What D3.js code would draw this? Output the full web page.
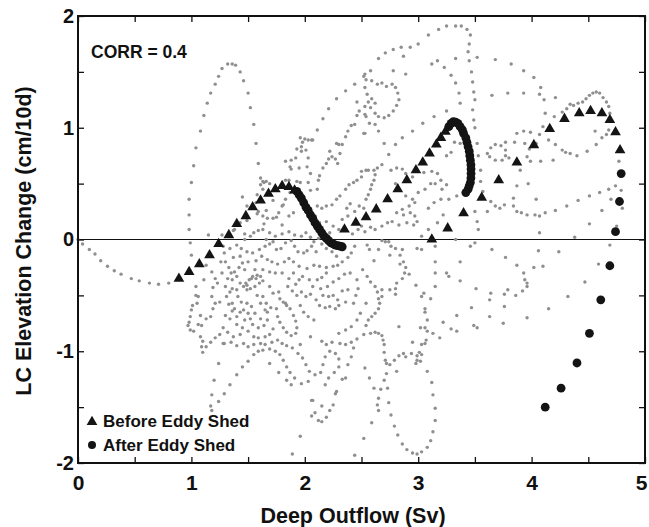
<!DOCTYPE html>
<html>
<head>
<meta charset="utf-8">
<script src="https://cdn.jsdelivr.net/npm/d3@7"></script>
<style>
  body { margin: 0; background: #fff; }
  text { font-family: "Liberation Sans", Arial, Helvetica, sans-serif; font-weight: bold; fill: #111; }
</style>
</head>
<body>
<svg id="chart" width="649" height="527"></svg>
<script>
// x = deep outflow (Sv), y = LC elevation change (cm/10d)
var xTicks = [0, 1, 2, 3, 4, 5];
var yTicks = [-2, -1, 0, 1, 2];
var corrLabel = 'CORR = 0.4';
var legendLabels = ['Before Eddy Shed', 'After Eddy Shed'];

// black triangles
var beforeShed = [
  [0.89,-0.35],[0.98,-0.29],[1.07,-0.22],[1.16,-0.14],[1.24,-0.04],[1.33,0.04],[1.40,0.14],[1.48,0.21],
  [1.54,0.29],[1.61,0.35],[1.68,0.41],[1.74,0.45],[1.80,0.48],[1.86,0.47],[1.91,0.44],
  [2.35,0.09],[2.45,0.15],[2.54,0.20],[2.63,0.27],[2.73,0.36],[2.82,0.45],[2.90,0.53],[2.98,0.62],
  [3.04,0.69],[3.10,0.77],[3.16,0.85],[3.20,0.91],[3.24,0.965],
  [3.12,0.00],[3.26,0.10],[3.40,0.235],[3.56,0.375],[3.71,0.53],[3.87,0.69],[4.02,0.845],[4.16,0.99],
  [4.29,1.08],[4.42,1.13],[4.52,1.15],[4.62,1.13],[4.69,1.07],[4.74,0.96],[4.78,0.80]
];

// black circles
var afterShed = [
  [1.93,0.43],[1.95,0.40],[1.97,0.37],[1.99,0.33],[2.01,0.29],[2.03,0.26],[2.05,0.22],[2.07,0.19],
  [2.09,0.15],[2.11,0.12],[2.13,0.09],[2.15,0.06],[2.17,0.03],[2.19,0.01],[2.21,-0.01],[2.23,-0.03],
  [2.25,-0.04],[2.27,-0.05],[2.29,-0.055],[2.31,-0.06],[2.33,-0.065],
  [3.27,1.01],[3.29,1.04],[3.31,1.055],[3.33,1.05],[3.35,1.04],[3.37,1.01],[3.39,0.98],[3.40,0.95],
  [3.42,0.91],[3.43,0.87],[3.44,0.83],[3.45,0.79],[3.455,0.75],[3.46,0.71],[3.465,0.67],[3.466,0.63],
  [3.466,0.59],[3.465,0.55],[3.46,0.51],[3.45,0.48],[3.44,0.45],[3.42,0.42],
  [4.79,0.59],[4.775,0.34],[4.74,0.07],[4.69,-0.235],[4.61,-0.54],[4.51,-0.84],[4.40,-1.105],
  [4.26,-1.33],[4.12,-1.50]
];

var trackWest = [
  [0.00,0.00],[0.04,-0.04],[0.10,-0.09],[0.15,-0.13],[0.20,-0.19],[0.26,-0.24],[0.32,-0.28],[0.38,-0.31],
  [0.47,-0.35],[0.54,-0.37],[0.63,-0.39],[0.71,-0.40],[0.80,-0.39],
  [0.99,-0.03],[0.98,0.09],[0.98,0.22],[0.98,0.36],[1.00,0.51],[1.02,0.66],[1.04,0.82],[1.08,0.97],
  [1.11,1.11],[1.14,1.22],[1.17,1.31],[1.21,1.39],[1.24,1.46],[1.27,1.53],[1.32,1.57],[1.36,1.57],
  [1.39,1.56],[1.43,1.50],[1.46,1.42],[1.50,1.31],[1.52,1.18],[1.55,1.03],[1.57,0.86],[1.59,0.68],
  [1.61,0.55],[1.64,0.51],[1.27,0.04],
  [1.00,-0.14],[1.13,-0.23],[1.18,-0.29],[1.21,-0.35],[1.11,-0.36],[1.04,-0.42],[1.04,-0.50],[1.06,-0.51],
  [1.05,-0.57],[1.01,-0.59],[1.00,-0.63],[0.99,-0.69],[0.98,-0.74],[0.97,-0.77],[0.99,-0.81],[1.02,-0.82],
  [1.06,-0.76],[1.09,-0.77],[1.13,-0.71],[1.17,-0.69],[1.19,-0.62],[1.21,-0.57],[1.25,-0.56],[1.18,-0.51],
  [1.19,-0.43],[1.23,-0.39],[1.08,-0.68],[1.08,-0.87],[1.10,-0.91],[1.09,-0.96],[1.10,-1.01],[1.13,-0.96],
  [1.17,-0.92],[1.21,-0.88],[1.25,-0.85],[1.29,-0.93],[1.24,-1.11],[1.20,-1.26],[1.18,-1.39],[1.24,-1.45],
  [1.17,-1.49],[1.18,-1.53],
  [1.15,0.04],[1.37,0.08],[1.47,0.05],[1.59,0.08],[1.64,0.14],[1.75,0.20],[1.66,0.26],[1.58,0.23],
  [1.49,0.17],[1.81,0.31],[1.72,0.35],[1.87,0.42]
];

var trackCentre = [
  [1.29,-1.38],[1.34,-1.30],[1.40,-1.21],[1.45,-1.14],[1.50,-1.09],[1.55,-1.03],[1.59,-1.00],[1.63,-0.99],
  [1.69,-0.98],[1.74,-1.00],[1.78,-1.03],[1.81,-1.08],[1.84,-1.14],[1.87,-1.19],[1.91,-1.24],[1.97,-1.29],
  [2.03,-1.27],[1.69,-1.11],[1.77,-1.19],[1.84,-1.26],[1.88,-1.30],[2.06,-1.44],[2.06,-1.58],[2.15,-1.49],
  [1.96,-1.76],[1.89,-1.92],[2.44,-1.93],[2.52,-1.78],
  [2.15,-0.91],[2.19,-0.94],[2.24,-0.92],[2.31,-0.93],[2.36,-0.94],[2.41,-0.92],[2.46,-0.89],[2.43,-0.97],
  [2.41,-1.05],[2.38,-1.12],[2.36,-1.24],[2.33,-1.25],[2.28,-1.36],[2.27,-1.38],[2.25,-1.48],[2.22,-1.53],
  [2.19,-1.59],[2.15,-1.63],[2.12,-1.62],[2.09,-1.55],[2.07,-1.44],[1.96,-0.94],[2.05,-0.87],
  [1.28,-0.06],[1.37,-0.16],[1.43,-0.15],[1.50,-0.20],[1.57,-0.19],[1.54,-0.12],[1.60,-0.09],[1.65,-0.06],
  [1.69,-0.04],[1.75,-0.09],[1.79,-0.08],[1.83,-0.03],[1.88,-0.01],[1.91,-0.06],[1.94,-0.11],[1.99,-0.12],
  [2.02,-0.10],[2.06,-0.06],[2.10,-0.11],
  [1.46,-0.42],[1.48,-0.39],[1.51,-0.36],[1.54,-0.33],[1.58,-0.32],[1.61,-0.33],[1.63,-0.37],[1.60,-0.39],
  [1.56,-0.42],[1.52,-0.44],[1.49,-0.45],[1.43,-0.39],[1.53,-0.35],[1.57,-0.35],[1.49,-0.41],
  [1.38,-0.29],[1.47,-0.27],[1.56,-0.27],[1.63,-0.27],[1.69,-0.29],[1.74,-0.30],[1.80,-0.30],[1.69,-0.42],
  [1.72,-0.48],[1.77,-0.47],[1.78,-0.53],[1.83,-0.57],
  [1.31,-0.51],[1.36,-0.57],[1.38,-0.62],[1.43,-0.65],[1.30,-0.68],[1.34,-0.71],[1.40,-0.76],[1.45,-0.79],
  [1.50,-0.82],[1.55,-0.87],[1.59,-0.88],[1.65,-0.87],[1.69,-0.85],[1.72,-0.80],[1.28,-0.93],[1.37,-0.87],
  [1.43,-0.85],[1.52,-0.71],[1.56,-0.66],[1.61,-0.71],[1.28,-0.79],
  [1.75,-0.62],[1.76,-0.69],[1.78,-0.74],[1.81,-0.79],[1.84,-0.83],[1.88,-0.86],[1.92,-0.84],[1.93,-0.79],
  [1.92,-0.73],[1.90,-0.68],[1.87,-0.62],[1.84,-0.59],[1.81,-0.56],
  [1.97,-0.47],[2.01,-0.51],[2.05,-0.49],[2.10,-0.54],[2.13,-0.59],[2.18,-0.61],[2.22,-0.60],[2.27,-0.62],
  [2.30,-0.59],[2.29,-0.54],[2.25,-0.50],[2.21,-0.51],[2.16,-0.50],[1.96,-0.59],[1.99,-0.65],[2.03,-0.69],
  [2.08,-0.72],[1.98,-0.33],[2.02,-0.26],[2.08,-0.23],[2.13,-0.24],[2.19,-0.25],[2.25,-0.24],[2.29,-0.23],
  [2.33,-0.20],[2.38,-0.16],[2.41,-0.12],[2.44,-0.06],[2.11,-0.36],[2.15,-0.34],[2.19,-0.30],[2.43,-0.57],
  [2.36,-0.56],[2.49,-0.66],[2.46,-0.72],[2.41,-0.78],[2.36,-0.81],[2.30,-0.84],
  [1.30,-0.42],[1.36,-0.36],[1.34,-0.47],[1.41,-0.51],[1.44,-0.56],[1.33,-0.58],[1.58,-0.50],[1.63,-0.51],
  [1.61,-0.57],[1.53,-0.60],[1.49,-0.57],[1.66,-0.57]
];

// the thickest part of the tangle, second pass
var trackTangle = [
  [1.30,-0.20],[1.33,-0.25],[1.35,-0.30],[1.40,-0.33],[1.42,-0.25],[1.45,-0.21],[1.40,-0.45],[1.36,-0.44],
  [1.32,-0.35],[1.27,-0.30],[1.26,-0.20],[1.29,-0.12],[1.34,-0.08],[1.40,-0.05],[1.44,-0.08],[1.49,-0.11],
  [1.62,-0.15],[1.67,-0.18],[1.71,-0.20],[1.76,-0.22],[1.82,-0.20],[1.86,-0.17],[1.90,-0.20],[1.95,-0.24],
  [1.90,-0.30],[1.86,-0.35],[1.85,-0.42],[1.89,-0.46],[1.93,-0.50],[1.92,-0.40],[1.95,-0.36],[2.04,-0.36],
  [2.07,-0.42],[2.14,-0.44],[2.20,-0.42],[2.25,-0.38],[2.30,-0.35],[2.35,-0.31],[2.40,-0.30],[2.46,-0.36],
  [2.47,-0.44],[2.45,-0.50],[2.38,-0.45],[2.33,-0.46],
  [1.46,-0.63],[1.50,-0.66],[1.54,-0.76],[1.59,-0.79],[1.64,-0.77],[1.67,-0.72],[1.67,-0.65],[1.70,-0.61],
  [1.65,-0.63],[1.47,-0.72],[1.40,-0.69],[1.36,-0.64],[1.32,-0.83],[1.35,-0.92],[1.40,-0.95],[1.46,-0.93],
  [1.50,-0.96],[1.55,-0.94],[1.61,-0.93],[1.65,-0.94],[1.71,-0.92],[1.76,-0.90],[1.80,-0.93],[1.84,-0.95],
  [1.89,-0.97],[1.94,-1.02],[1.98,-1.06],[2.01,-1.12],[2.04,-1.18],[2.09,-1.21],[2.14,-1.19],[2.16,-1.12],
  [2.18,-1.05],[2.22,-1.00],[2.27,-1.02],[2.30,-1.07],[2.30,-1.14],[2.26,-1.19],[2.21,-1.24],[2.18,-1.30],
  [1.66,0.00],[1.72,-0.02],[1.97,0.03],[2.01,0.06],[2.05,0.02],[2.08,-0.02],[2.12,0.01],[2.15,-0.04],
  [2.19,-0.08],[2.24,-0.11],[2.28,-0.15],
  [2.42,0.05],[2.47,0.09],[2.50,0.12],[2.44,0.25],[2.48,0.30],[2.52,0.28],[2.40,0.32],[2.37,0.28]
];

var trackNorth = [
  [2.44,1.39],[2.36,1.33],[2.28,1.26],[2.21,1.17],[2.16,1.08],[2.11,0.98],[2.06,0.89],
  [1.96,0.91],[1.98,0.87],[1.97,0.83],[2.03,0.89],[2.07,0.89],[1.93,0.81],[1.97,0.79],[2.01,0.80],
  [2.03,0.73],[1.92,0.73],[1.88,0.71],[1.83,0.70],[1.88,0.63],[1.95,0.64],[2.02,0.65],[2.05,0.59],
  [2.03,0.51],[1.93,0.52],[2.05,0.44],[2.11,0.45],[2.12,0.53],[2.13,0.57],[2.16,0.64],[2.19,0.68],
  [2.21,0.72],[2.24,0.74],[2.27,0.72],[2.29,0.68],[2.31,0.77],[2.30,0.85],[2.28,0.86],[2.22,0.79],
  [2.46,1.23],[2.48,1.15],[2.46,1.11],[2.44,1.03],[2.41,1.02],[2.38,0.97],[2.36,0.92],[2.33,0.85],
  [2.53,1.48],[2.54,1.43],[2.53,1.36],[2.53,1.12],[2.52,0.95],
  [1.83,0.53],[1.86,0.53],[1.87,0.65],[1.96,0.51],[2.00,0.90],
  [1.61,0.49],[1.63,0.52],[1.66,0.52],[1.69,0.50],[1.63,0.45],[1.58,0.40],[1.57,0.33],[1.59,0.25],
  [1.63,0.21],[1.67,0.19],[1.72,0.19],[1.77,0.24],[1.80,0.30],[1.83,0.36],[1.80,0.13],[1.86,0.21],
  [1.90,0.24],
  [2.11,0.30],[2.15,0.28],[2.19,0.30],[2.24,0.31],[2.28,0.36],[2.31,0.39],[2.36,0.45],[2.39,0.49],
  [2.43,0.51],[2.46,0.53],[2.50,0.56],[2.54,0.62],
  [2.09,0.21],[2.13,0.15],[2.19,0.16],[2.25,0.12],[2.30,0.09],[2.22,0.06],[2.33,0.18],[2.38,0.21],
  [1.69,0.06],[1.74,0.03],[1.80,0.05],[1.86,0.07],[1.91,0.04],[1.55,0.06],[1.52,0.03],[1.47,0.00],
  [1.63,0.09],[1.38,0.09],[1.43,0.15],[1.49,0.30],[1.45,0.38],
  [2.52,1.46],[2.58,1.51],[2.65,1.62],[2.71,1.67],[2.78,1.70],[2.85,1.72],[2.93,1.72],[3.00,1.75],
  [3.09,1.83],[3.18,1.88],[3.25,1.91],[3.33,1.91],[3.38,1.91],[3.43,1.88],[3.46,1.83],[3.45,1.75],
  [3.44,1.68],[3.45,1.60],[3.47,1.50],[3.48,1.41],[3.49,1.32],[3.50,1.25],[3.48,1.16],[3.49,1.07],
  [3.50,1.00],
  [2.59,1.42],[2.64,1.39],[2.68,1.40],[2.72,1.37],[2.77,1.39],[2.80,1.36],[2.82,1.31],[2.83,1.25],
  [2.81,1.20],[2.78,1.15],[2.74,1.11],[2.70,1.09],[2.65,1.10],[2.62,1.13],[2.58,1.18],[2.56,1.23],
  [2.59,1.26],[2.62,1.22],[2.55,1.30],[2.53,1.19],[2.54,1.10],[2.57,1.04],[2.62,1.03],[2.65,0.97],
  [2.53,0.95],
  [2.70,0.86],[2.80,0.85],[2.86,0.91],[2.95,0.97],[3.04,1.04],[3.14,1.10],[3.25,1.15],
  [2.89,1.48],[2.78,1.51],[2.87,1.64],[3.12,1.57],[3.17,1.60],[3.23,1.54],[3.29,1.47],[3.33,1.40],
  [3.36,1.31],[3.37,1.22],[3.33,1.62],[3.52,1.63],[3.68,1.61],[3.65,1.29],[3.79,1.31],
  [3.61,0.77],[3.64,0.82],[3.68,0.85],[3.73,0.84],[3.77,0.80],[3.77,0.75],[3.74,0.71],[3.68,0.71],
  [3.63,0.74],
  [2.50,0.61],[2.56,0.62],[2.61,0.62],[2.62,0.58],[2.61,0.53],[2.59,0.49],[2.58,0.45],[2.56,0.40],
  [2.54,0.36],[2.64,0.64],[2.68,0.67],[2.74,0.76],[2.76,0.62],[2.81,0.64],[2.86,0.63],[2.80,0.50],
  [2.89,0.59],[2.95,0.56],[3.05,0.60],[3.12,0.61],[3.17,0.59],[3.20,0.53],[3.15,0.50],[3.11,0.50],
  [3.06,0.45],[2.89,0.39],[2.95,0.36],[3.00,0.42],[2.97,0.33],[2.92,0.30],[2.86,0.27],[2.81,0.24],
  [2.87,0.22],[2.93,0.24],[2.97,0.21],[2.99,0.16],[2.96,0.13],[2.90,0.15],[2.83,0.13],[2.77,0.16],
  [2.73,0.15],[2.68,0.12],[2.62,0.09],[2.58,0.11],[2.53,0.07],
  [3.09,0.28],[3.14,0.33],[3.20,0.36],[3.27,0.36],[3.34,0.39],[3.22,0.22],[3.17,0.15],[3.09,0.09],
  [3.03,0.03],[3.33,0.00],[3.52,0.16],[3.50,0.25],[3.53,0.09],[3.21,0.45],[3.25,0.49],[3.25,0.75],
  [3.29,0.78],[3.37,0.86],[3.32,0.87],[3.52,0.86],[3.53,0.75],[3.55,0.62],[3.55,0.52],[3.57,0.43],
  [3.64,0.34],[3.68,0.30],[3.72,0.28],[3.76,0.31],[3.61,0.25]
];

var trackEast = [
  [3.82,1.57],[3.93,1.51],[4.02,1.45],[4.08,1.36],[4.11,1.25],[4.21,1.27],[3.93,1.31],[4.07,1.30],
  [4.12,1.13],[4.20,1.10],[4.27,1.14],[4.31,1.17],[4.34,1.21],[4.37,1.20],[4.41,1.22],[4.45,1.23],
  [4.48,1.26],[4.51,1.29],[4.54,1.31],[4.57,1.32],[4.60,1.31],[4.63,1.27],[4.66,1.23],[4.68,1.19],
  [4.69,1.13],[4.68,0.98],[4.66,0.94],[4.62,0.91],[4.57,0.85],[4.49,0.79],[4.40,0.75],[4.34,0.77],
  [4.30,0.78],[4.27,0.80],[4.21,0.85],[4.15,0.89],[4.19,0.71],[4.08,0.70],[3.99,0.70],[3.96,0.74],
  [3.98,0.81],[4.04,0.86],[4.07,0.94],[4.10,1.01],[3.94,0.86],[3.85,0.87],[3.77,0.87],[3.93,0.97],
  [3.87,0.95],[3.99,0.96],[3.80,0.73],[3.90,0.62],[3.87,0.48],[3.97,0.50],[4.04,0.36],[4.07,0.06],
  [4.38,0.02],[3.84,0.37],[3.84,0.30],[3.87,0.25],[3.91,0.24],[3.96,0.22],[4.03,0.22],[4.07,0.21],
  [4.12,0.24],[4.21,0.26],[4.31,0.30],[4.41,0.35],[4.51,0.39],[4.60,0.42],[4.68,0.45],[4.74,0.48],
  [4.79,0.44],[4.80,0.28],[4.70,0.36],[4.62,0.26],[4.51,0.14],[4.75,0.12],[4.77,0.70],[4.56,0.97],
  [3.77,-0.16],[3.87,-0.23],[3.93,-0.30],[3.94,-0.36],[3.96,-0.39],[3.96,-0.42],[3.92,-0.46],[3.86,-0.50],
  [3.79,-0.45],[3.76,-0.49],[3.76,-0.60],[3.75,-0.75],[3.96,-0.70],[4.15,-0.62],[4.32,-0.51],[4.47,-0.38],
  [4.59,-0.22],[4.69,-0.05],[4.06,-0.10],[4.24,-0.11],[4.02,-0.25],[4.10,-0.24]
];

var trackSouth = [
  [2.55,-0.05],[2.57,-0.09],[2.68,-0.01],[2.71,-0.02],[2.74,-0.02],[2.76,-0.06],[2.80,-0.08],[2.86,-0.09],
  [2.84,-0.14],[2.87,-0.20],[2.89,-0.25],[2.88,-0.30],[2.86,-0.35],[2.81,-0.39],[2.75,-0.45],[2.80,-0.49],
  [2.65,-0.09],[2.75,-0.14],[2.61,-0.19],[2.51,-0.27],[2.55,-0.33],[2.58,-0.38],[2.62,-0.42],[2.64,-0.47],
  [2.68,-0.51],[2.65,-0.53],[2.66,-0.57],[2.65,-0.62],[2.62,-0.66],[2.59,-0.69],[2.56,-0.72],[2.54,-0.77],
  [2.52,-0.85],[2.58,-0.84],[2.62,-0.83],[2.65,-0.84],[2.68,-0.86],[2.69,-0.90],[2.70,-0.94],[2.70,-1.01],
  [2.71,-1.08],[2.72,-1.11],[2.72,-1.20],[2.70,-1.26],[2.73,-1.33],[2.67,-1.34],[2.65,-1.42],[2.64,-1.48],
  [2.65,-1.53],[2.61,-1.33],[2.57,-1.24],[2.53,-1.15],[2.59,-1.64],
  [2.76,-1.57],[2.79,-1.67],[2.82,-1.75],[2.86,-1.83],[2.90,-1.88],[2.95,-1.91],[2.99,-1.92],[3.03,-1.90],
  [3.08,-1.86],[3.11,-1.80],[3.13,-1.72],[3.15,-1.62],[3.15,-1.51],[3.13,-1.39],[3.12,-1.28],[3.08,-1.18],
  [2.74,-1.46],
  [2.75,-1.12],[2.79,-1.08],[2.83,-1.04],[2.87,-1.02],[2.89,-1.05],[2.94,-1.02],[2.99,-1.04],[3.01,-1.01],
  [3.03,-1.03],[2.99,-1.08],[3.02,-1.09],[2.98,-1.11],[3.03,-0.94],[3.06,-0.93],[3.07,-0.90],[3.08,-0.82],
  [3.06,-0.79],[3.02,-0.79],[3.08,-0.72],[3.06,-0.65],[3.06,-0.62],[3.05,-0.48],[3.03,-0.51],[3.11,-0.53],
  [2.98,-0.41],[2.83,-0.78],[2.95,-0.92],[2.81,-1.18],[3.13,-0.84],[3.19,-0.88],[3.22,-0.74],[3.29,-0.80],
  [3.34,-0.82],[3.34,-0.68],[3.37,-0.37],[3.37,-0.20],[3.27,-0.33],[3.25,-0.30],[3.15,-0.42],[3.15,-0.30],
  [3.15,-0.20],[3.15,-0.06],[2.99,-0.08],[3.03,-0.09],[2.84,-0.22],[2.92,-0.31],[2.80,-0.44],[2.68,-0.45],
  [2.54,-0.57],[3.46,-0.06],[3.50,-0.03],[3.65,-0.09],[3.51,-0.44],[3.64,-0.48],[3.63,-0.54],[3.63,-0.69],
  [3.49,-0.77],[3.52,-0.79],[3.47,-0.61]
];

var outflowTrack = trackWest.concat(trackCentre, trackTangle, trackNorth, trackEast, trackSouth);

var svg = d3.select('#chart');
var x = d3.scaleLinear().domain([0, 5]).range([78, 645]);
var y = d3.scaleLinear().domain([-2, 2]).range([463, 16]);
var halfX = d3.range(0, 5.01, 0.5);
var halfY = d3.range(-2, 2.01, 0.5);
var intLabel = function (ticks) {
  return function (d) { return ticks.indexOf(d) >= 0 ? d : ''; };
};

// zero line
svg.append('line')
  .attr('x1', x(0)).attr('x2', x(5))
  .attr('y1', y(0)).attr('y2', y(0))
  .attr('stroke', '#111').attr('stroke-width', 1.2);

// grey track
svg.append('g').selectAll('circle')
  .data(outflowTrack)
  .enter().append('circle')
  .attr('cx', function (d) { return x(d[0]); })
  .attr('cy', function (d) { return y(d[1]); })
  .attr('r', 1.7)
  .attr('fill', '#8f8f8f');

var tri = d3.symbol().type(d3.symbolTriangle).size(50);
svg.append('g').selectAll('path')
  .data(beforeShed)
  .enter().append('path')
  .attr('d', tri)
  .attr('transform', function (d) { return 'translate(' + x(d[0]) + ',' + y(d[1]) + ')'; })
  .attr('fill', '#141414');

svg.append('g').selectAll('circle')
  .data(afterShed)
  .enter().append('circle')
  .attr('cx', function (d) { return x(d[0]); })
  .attr('cy', function (d) { return y(d[1]); })
  .attr('r', 4.4)
  .attr('fill', '#141414');

// axes, ticks pointing inward
var gx = svg.append('g').attr('transform', 'translate(0,' + y(-2) + ')')
  .call(d3.axisBottom(x).tickValues(halfX).tickSize(-6).tickPadding(12).tickFormat(intLabel(xTicks)));
gx.selectAll('text').style('font-size', '21px');
// the last label sits on the page edge, pull it in a little
gx.selectAll('.tick text').filter(function (d) { return d === 5; }).attr('dx', -4);
svg.append('g').attr('transform', 'translate(0,' + y(2) + ')')
  .call(d3.axisTop(x).tickValues(halfX).tickSize(-6).tickFormat(''));
var gy = svg.append('g').attr('transform', 'translate(' + x(0) + ',0)')
  .call(d3.axisLeft(y).tickValues(halfY).tickSize(-6).tickPadding(4).tickFormat(intLabel(yTicks)));
gy.selectAll('text').style('font-size', '20px');
svg.append('g').attr('transform', 'translate(' + x(5) + ',0)')
  .call(d3.axisRight(y).tickValues(halfY).tickSize(-6).tickFormat(''));
svg.selectAll('.domain').remove();
svg.selectAll('.tick line').attr('stroke', '#111').attr('stroke-width', 1.3);
svg.selectAll('.tick text').attr('fill', '#111').style('font-family', '"Liberation Sans", Arial, sans-serif').style('font-weight', 'bold');

svg.append('rect')
  .attr('x', x(0)).attr('y', y(2))
  .attr('width', x(5) - x(0)).attr('height', y(-2) - y(2))
  .attr('fill', 'none').attr('stroke', '#111').attr('stroke-width', 2);

// titles
svg.append('text')
  .attr('x', 353).attr('y', 523)
  .attr('text-anchor', 'middle')
  .style('font-size', '21.5px')
  .text('Deep Outflow (Sv)');
svg.append('text')
  .attr('transform', 'translate(31,241) rotate(-90)')
  .attr('text-anchor', 'middle')
  .style('font-size', '21.5px')
  .text('LC Elevation Change (cm/10d)');
svg.append('text')
  .attr('x', 91).attr('y', 57.5)
  .style('font-size', '17.5px')
  .text(corrLabel);

// legend
svg.append('path')
  .attr('d', tri)
  .attr('transform', 'translate(92,422)')
  .attr('fill', '#141414');
svg.append('circle')
  .attr('cx', 92).attr('cy', 445).attr('r', 4)
  .attr('fill', '#141414');
svg.selectAll('.legend-label')
  .data(legendLabels)
  .enter().append('text')
  .attr('class', 'legend-label')
  .attr('x', 103)
  .attr('y', function (d, i) { return 427 + i * 23.5; })
  .style('font-size', '17px')
  .text(function (d) { return d; });
</script>
</body>
</html>
